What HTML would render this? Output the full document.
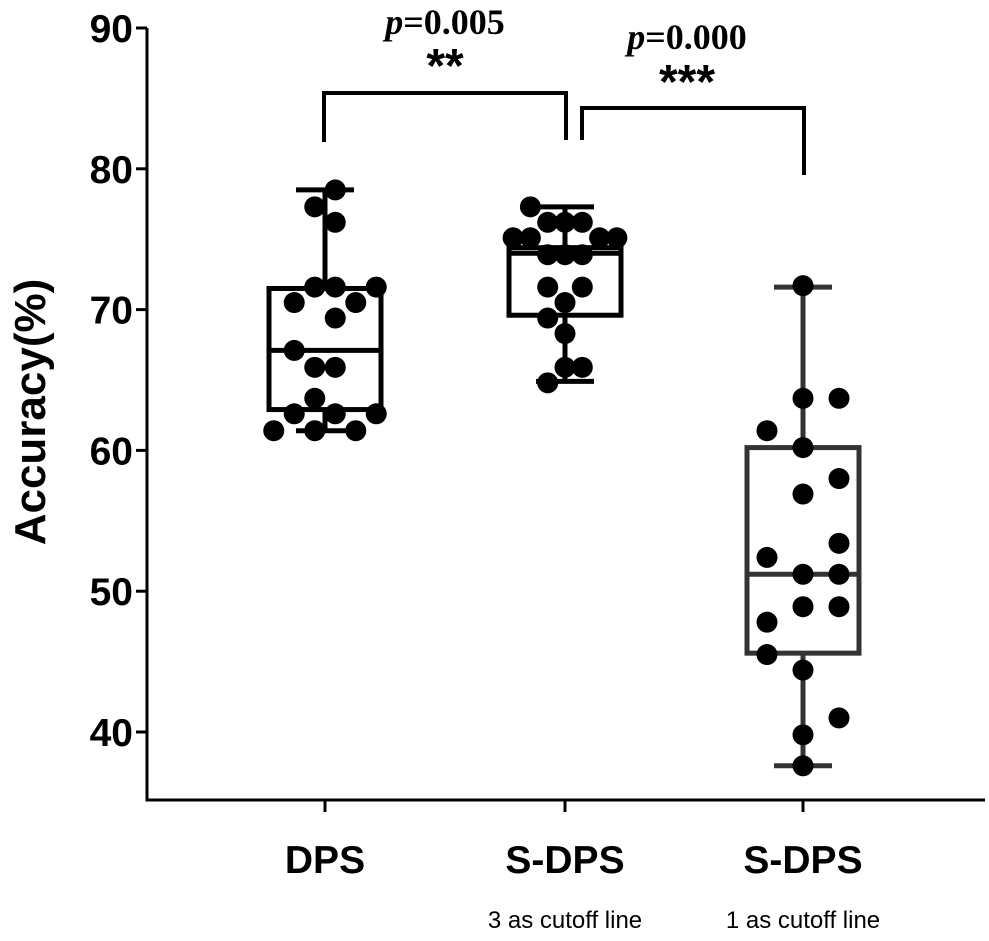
<!DOCTYPE html>
<html><head><meta charset="utf-8"><style>
html,body{margin:0;padding:0;background:#fff;}
svg{display:block;font-family:"Liberation Sans",sans-serif;}
</style></head><body>
<svg id="chart" width="989" height="941"></svg>
<script>
const categories=["DPS","S-DPS","S-DPS"];
const subtitles=["","3 as cutoff line","1 as cutoff line"];
const yTicks=[40,50,60,70,80,90];
const boxStats=[
 {min:61.4,q1:62.9,med:67.1,q3:71.5,max:78.5},
 {min:64.9,q1:69.6,med:74.0,q3:74.4,max:77.3},
 {min:37.6,q1:45.6,med:51.2,q3:60.2,max:71.6}];
const dpsValues=[78.5,77.3,76.2,71.6,71.6,71.6,70.5,70.5,69.4,67.1,65.9,65.9,63.7,62.6,62.6,62.6,61.4,61.4,61.4];
const dpsSlots=[0.5,-0.5,0.5,-0.5,0.5,2.5,-1.5,1.5,0.5,-1.5,-0.5,0.5,-0.5,-1.5,0.5,2.5,-2.5,-0.5,1.5];
const sdps3Values=[77.3,76.2,76.2,76.2,75.1,75.1,75.1,75.1,73.9,73.9,73.9,71.6,71.6,70.5,69.4,68.3,65.9,65.9,64.8];
const sdps3Slots=[-2,-1,0,1,-3,-2,2,3,-1,0,1,-1,1,0,-1,0,0,1,-1];
const sdps1Values=[71.7,63.7,63.7,61.4,60.2,58.0,56.9,53.4,52.4,51.2,51.2,48.9,48.9,47.8,45.5,44.4,41.0,39.8,37.6];
const sdps1Slots=[0,0,1,-1,0,1,0,1,-1,0,1,0,1,-1,-1,0,1,0,0];
const groupValues=[dpsValues,sdps3Values,sdps1Values];
const groupSlots=[dpsSlots,sdps3Slots,sdps1Slots];

const NS="http://www.w3.org/2000/svg";
const svg=document.getElementById('chart');
const X0=147,YB=800,Y90=28,PX=14.08;
const centers=[325,565,803];
const slotStep=[20.5,17.3,36];
function yS(v){return Y90+(90-v)*PX;}
function xS(i){return centers[i];}
function el(tag,attrs,parent){const e=document.createElementNS(NS,tag);for(const k in attrs)e.setAttribute(k,attrs[k]);(parent||svg).appendChild(e);return e;}

const ax=el('path',{d:`M${X0},${yS(90)} V${YB} H985`,stroke:'#000','stroke-width':3,fill:'none'});


yTicks.forEach(t=>{
 const l=el('line',{x1:X0-11,x2:X0,y1:yS(t),y2:yS(t),stroke:'#000','stroke-width':3});
 
 
 const tx=el('text',{x:X0-14,y:yS(t)+14,'text-anchor':'end','font-size':39,'font-weight':'bold'});
 tx.textContent=t;
 
 
});
const yt=el('text',{x:0,y:0,transform:'translate(45,412) rotate(-90)','text-anchor':'middle','font-size':44,'font-weight':'bold'});
yt.textContent='Accuracy(%)';



categories.forEach((c,i)=>{
 const cx=xS(i);
 const tk=el('line',{x1:cx,x2:cx,y1:YB,y2:YB+12,stroke:'#000','stroke-width':3});
 
 
 const t=el('text',{x:cx,y:873,'text-anchor':'middle','font-size':39,'font-weight':'bold'});
 t.textContent=c;
 
 
 if(subtitles[i]){
  const s=el('text',{x:cx,y:928,'text-anchor':'middle','font-size':24});
  s.textContent=subtitles[i];
  
  
 }
 const b=boxStats[i];
 const col=i===2?'#333':'#000';
 const g=el('g',{stroke:col,'stroke-width':5,fill:'none'});
 
 
 el('line',{x1:cx,x2:cx,y1:yS(b.max),y2:yS(b.q3)},g);
 el('line',{x1:cx,x2:cx,y1:yS(b.q1),y2:yS(b.min)},g);
 el('line',{x1:cx-29,x2:cx+29,y1:yS(b.max),y2:yS(b.max)},g);
 el('line',{x1:cx-29,x2:cx+29,y1:yS(b.min),y2:yS(b.min)},g);
 el('rect',{x:cx-56,y:yS(b.q3),width:112,height:yS(b.q1)-yS(b.q3)},g);
 el('line',{x1:cx-56,x2:cx+56,y1:yS(b.med),y2:yS(b.med)},g);
 groupValues[i].forEach((v,j)=>{
  const d=el('circle',{cx:cx+groupSlots[i][j]*slotStep[i],cy:yS(v),r:10.5,fill:'#000'});
  
  
 });
});
const br1=el('path',{d:'M324,142 V93 H566 V140',stroke:'#000','stroke-width':4,fill:'none'});


const br2=el('path',{d:'M582,140 V108 H804 V175',stroke:'#000','stroke-width':4,fill:'none'});


function lab(x,yy,html,name,size,fam){
 const t=el('text',{x:x,y:yy,'text-anchor':'middle','font-size':size,'font-weight':'bold','font-family':fam});
 t.innerHTML=html;
 
 
}
lab(445,34,'<tspan font-style="italic">p</tspan>=0.005','p-value-1',36,'Liberation Serif');
lab(445,82,'**','stars-1',48,'Liberation Sans');
lab(687,49,'<tspan font-style="italic">p</tspan>=0.000','p-value-2',36,'Liberation Serif');
lab(687,98,'***','stars-2',48,'Liberation Sans');
</script>
</body></html>
